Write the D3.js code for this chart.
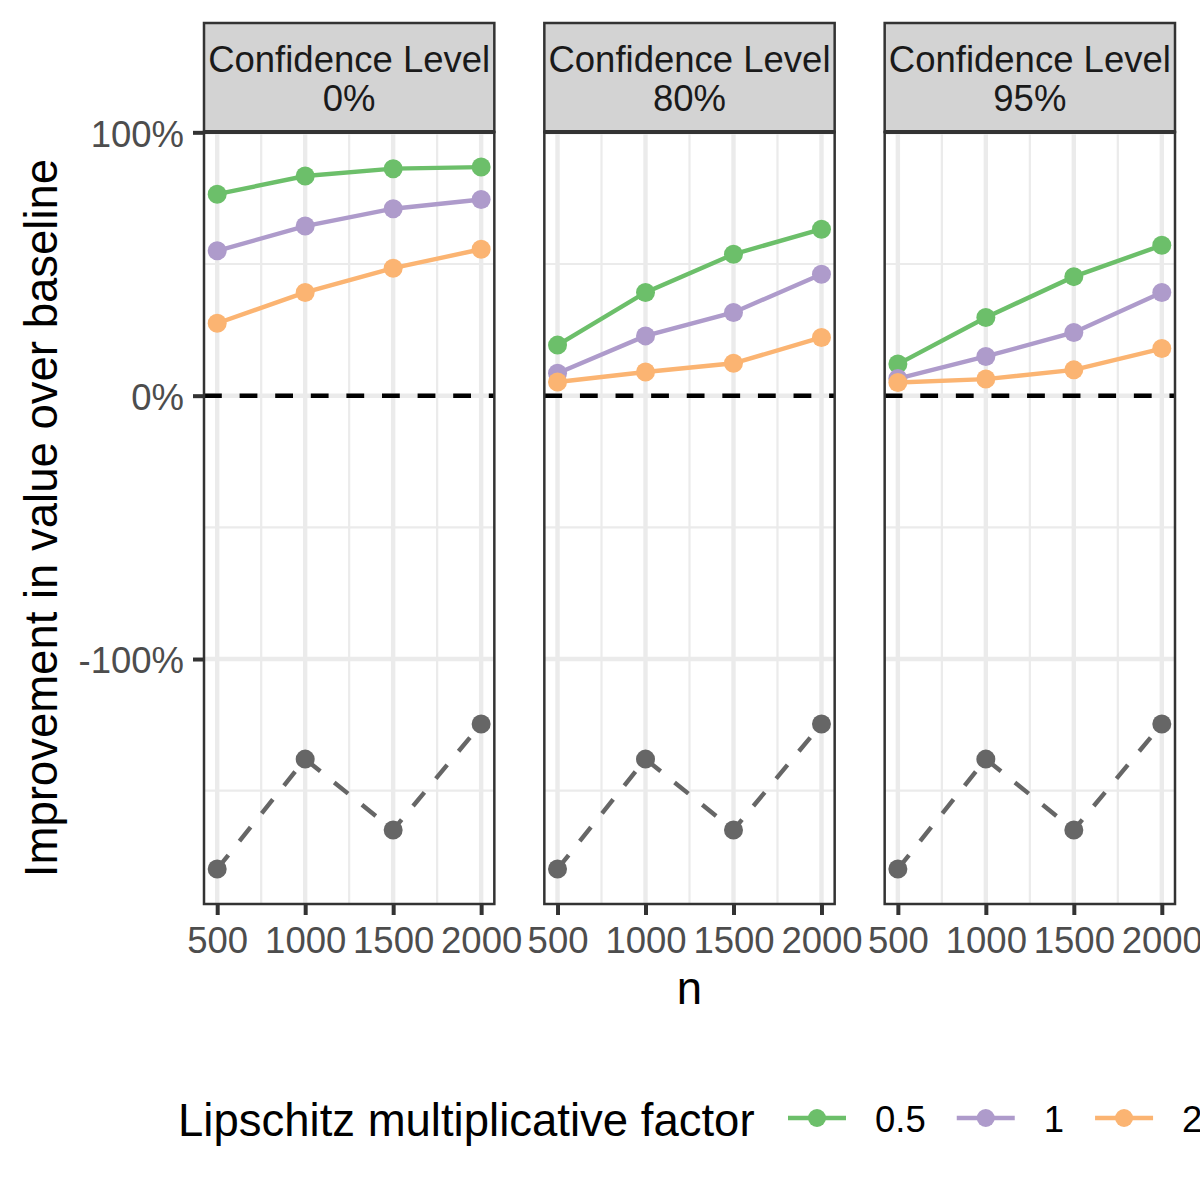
<!DOCTYPE html>
<html>
<head>
<meta charset="utf-8">
<script src="https://cdn.jsdelivr.net/npm/d3@7"></script>
<style>
	body { margin: 0; background: #fff; }
	text { font-family: "Liberation Sans", Arial, Helvetica, sans-serif; }
</style>
</head>
<body>
<div id="chart"></div>
<script>
// values, in percent
const sampleSizes = [500, 1000, 1500, 2000];
const confidenceLevels = ["0%", "80%", "95%"];
const lipschitzFactors = ["0.5", "1", "2"];
const factorColors = ["#6cbf6a", "#ae9bcb", "#fbb472"];

// one row per Lipschitz factor (0.5, 1, 2)
const level0 = [
	[76.5, 83.4, 86.2, 86.8],
	[55.0, 64.4, 71.0, 74.5],
	[27.5, 39.2, 48.4, 55.6]
];
const level80 = [
	[19.2, 39.2, 53.7, 63.2],
	[8.5, 22.7, 31.6, 46.1],
	[5.2, 9.0, 12.3, 22.1]
];
const level95 = [
	[12.0, 29.7, 45.2, 57.1],
	[6.5, 14.9, 24.0, 39.2],
	[5.0, 6.3, 9.8, 17.9]
];
// baseline series, identical in each panel
const baseline = [-179.7, -138.0, -164.9, -124.7];

const yMajor = [-100, 0, 100];
const yMinor = [-150, -50, 50];
const xMinor = [750, 1250, 1750];

class FacetChart {
	constructor(panels, selector) {
		this.width = 1200
		this.height = 1200
		this.left = 204
		this.right = 1175
		this.top = 132
		this.bottom = 904
		this.stripTop = 23
		this.spacing = 50
		this.panelWidth = (this.right - this.left - 2 * this.spacing) / 3
		this.panels = panels
		this.selector = selector

		// ggplot style 5% expansion on both scales
		let all = panels.flat(2).concat(baseline);
		let [lo, hi] = d3.extent(all);
		let pad = (hi - lo) * 0.05;
		this.yScale = d3.scaleLinear()
			.domain([lo - pad, hi + pad])
			.range([this.bottom, this.top]);

		let xPad = (d3.max(sampleSizes) - d3.min(sampleSizes)) * 0.05;
		this.xScale = d3.scaleLinear()
			.domain([d3.min(sampleSizes) - xPad, d3.max(sampleSizes) + xPad])
			.range([0, this.panelWidth]);

		this.color = d3.scaleOrdinal()
			.domain(lipschitzFactors)
			.range(factorColors);
	}

	draw() {
		let svg = d3.select(this.selector).append("svg")
			.attr("width", this.width)
			.attr("height", this.height);

		svg.append("rect")
			.attr("width", this.width)
			.attr("height", this.height)
			.attr("fill", "white");

		let line = d3.line()
			.x((d, i) => this.xScale(sampleSizes[i]))
			.y(d => this.yScale(d));

		this.panels.forEach((series, p) => {
			let x0 = this.left + p * (this.panelWidth + this.spacing);
			let g = svg.append("g")
				.attr("transform", `translate(${x0},0)`);

///////////////////////////////////////////////
			// grid
			g.append("g").selectAll("line")
				.data(yMinor)
				.join("line")
				.attr("x1", 0).attr("x2", this.panelWidth)
				.attr("y1", d => this.yScale(d)).attr("y2", d => this.yScale(d))
				.attr("stroke", "#ebebeb").attr("stroke-width", 2.2);
			g.append("g").selectAll("line")
				.data(xMinor)
				.join("line")
				.attr("x1", d => this.xScale(d)).attr("x2", d => this.xScale(d))
				.attr("y1", this.top).attr("y2", this.bottom)
				.attr("stroke", "#ebebeb").attr("stroke-width", 2.2);
			g.append("g").selectAll("line")
				.data(yMajor)
				.join("line")
				.attr("x1", 0).attr("x2", this.panelWidth)
				.attr("y1", d => this.yScale(d)).attr("y2", d => this.yScale(d))
				.attr("stroke", "#ebebeb").attr("stroke-width", 4.4);
			g.append("g").selectAll("line")
				.data(sampleSizes)
				.join("line")
				.attr("x1", d => this.xScale(d)).attr("x2", d => this.xScale(d))
				.attr("y1", this.top).attr("y2", this.bottom)
				.attr("stroke", "#ebebeb").attr("stroke-width", 4.4);

			// zero reference line
			g.append("line")
				.attr("x1", 0).attr("x2", this.panelWidth)
				.attr("y1", this.yScale(0)).attr("y2", this.yScale(0))
				.attr("stroke", "black")
				.attr("stroke-width", 4.4)
				.attr("stroke-dasharray", "17.8,17.8");

///////////////////////////////////////////////
			// baseline (grey dashed)
			g.append("path")
				.datum(baseline)
				.attr("d", line)
				.attr("fill", "none")
				.attr("stroke", "#666666")
				.attr("stroke-width", 4.4)
				.attr("stroke-dasharray", "17.8,17.8");
			g.append("g").selectAll("circle")
				.data(baseline)
				.join("circle")
				.attr("cx", (d, i) => this.xScale(sampleSizes[i]))
				.attr("cy", d => this.yScale(d))
				.attr("r", 9.5)
				.attr("fill", "#666666");

			// factor series
			series.forEach((vals, s) => {
				let c = this.color(lipschitzFactors[s]);
				g.append("path")
					.datum(vals)
					.attr("d", line)
					.attr("fill", "none")
					.attr("stroke", c)
					.attr("stroke-width", 4.4);
				g.append("g").selectAll("circle")
					.data(vals)
					.join("circle")
					.attr("cx", (d, i) => this.xScale(sampleSizes[i]))
					.attr("cy", d => this.yScale(d))
					.attr("r", 9.5)
					.attr("fill", c);
			});

///////////////////////////////////////////////
			// panel border
			g.append("rect")
				.attr("x", 0).attr("y", this.top)
				.attr("width", this.panelWidth)
				.attr("height", this.bottom - this.top)
				.attr("fill", "none")
				.attr("stroke", "#333333")
				.attr("stroke-width", 2.5);

			// strip
			g.append("rect")
				.attr("x", 0).attr("y", this.stripTop)
				.attr("width", this.panelWidth)
				.attr("height", this.top - this.stripTop)
				.attr("fill", "#d3d3d3")
				.attr("stroke", "#333333")
				.attr("stroke-width", 2.5);
			g.append("line")
				.attr("x1", 0).attr("x2", this.panelWidth)
				.attr("y1", this.top).attr("y2", this.top)
				.attr("stroke", "#333333")
				.attr("stroke-width", 4);
			g.append("text")
				.text("Confidence Level")
				.attr("x", this.panelWidth / 2)
				.attr("y", 72)
				.attr("text-anchor", "middle")
				.attr("font-size", 36.5)
				.attr("fill", "#1a1a1a");
			g.append("text")
				.text(confidenceLevels[p])
				.attr("x", this.panelWidth / 2)
				.attr("y", 111)
				.attr("text-anchor", "middle")
				.attr("font-size", 36.5)
				.attr("fill", "#1a1a1a");

			// x axis
			let xAxis = d3.axisBottom(this.xScale)
				.tickValues(sampleSizes)
				.tickFormat(d => d)
				.tickSize(11)
				.tickPadding(12);
			let ax = g.append("g")
				.attr("transform", `translate(0,${this.bottom})`)
				.call(xAxis);
			ax.select(".domain").remove();
			ax.selectAll("line").attr("stroke", "#333333").attr("stroke-width", 4);
			ax.selectAll("text")
				.attr("font-size", 36.5)
				.attr("font-family", null)
				.attr("fill", "#4d4d4d");
		});

///////////////////////////////////////////////
		// y axis (left panel only)
		let yAxis = d3.axisLeft(this.yScale)
			.tickValues(yMajor)
			.tickFormat(d => d + "%")
			.tickSize(11)
			.tickPadding(9);
		let ay = svg.append("g")
			.attr("transform", `translate(${this.left},0)`)
			.call(yAxis);
		ay.select(".domain").remove();
		ay.selectAll("line").attr("stroke", "#333333").attr("stroke-width", 4);
		ay.selectAll("text")
			.attr("font-size", 36.5)
			.attr("font-family", null)
			.attr("dy", "0.38em")
			.attr("fill", "#4d4d4d");

		// axis titles
		svg.append("text")
			.text("Improvement in value over baseline")
			.attr("transform", `translate(57,${(this.top + this.bottom) / 2}) rotate(-90)`)
			.attr("text-anchor", "middle")
			.attr("font-size", 45.5)
			.attr("fill", "black");
		svg.append("text")
			.text("n")
			.attr("x", (this.left + this.right) / 2)
			.attr("y", 1004)
			.attr("text-anchor", "middle")
			.attr("font-size", 45.5)
			.attr("fill", "black");

///////////////////////////////////////////////
		// legend
		let legend = svg.append("g");
		legend.append("text")
			.text("Lipschitz multiplicative factor")
			.attr("x", 178)
			.attr("y", 1136)
			.attr("font-size", 45.5)
			.attr("fill", "black");

		let keyX = 788;
		let keyY = 1118;
		lipschitzFactors.forEach((f, i) => {
			let c = this.color(f);
			legend.append("line")
				.attr("x1", keyX).attr("x2", keyX + 58)
				.attr("y1", keyY).attr("y2", keyY)
				.attr("stroke", c)
				.attr("stroke-width", 4.4);
			legend.append("circle")
				.attr("cx", keyX + 29)
				.attr("cy", keyY)
				.attr("r", 9)
				.attr("fill", c);
			let label = legend.append("text")
				.text(f)
				.attr("x", keyX + 87)
				.attr("y", 1132)
				.attr("font-size", 36.5)
				.attr("fill", "black");
			keyX += 86 + label.node().getComputedTextLength() + 32;
		});
	}
}

let chart = new FacetChart([level0, level80, level95], "#chart");
chart.draw();
</script>
</body>
</html>
